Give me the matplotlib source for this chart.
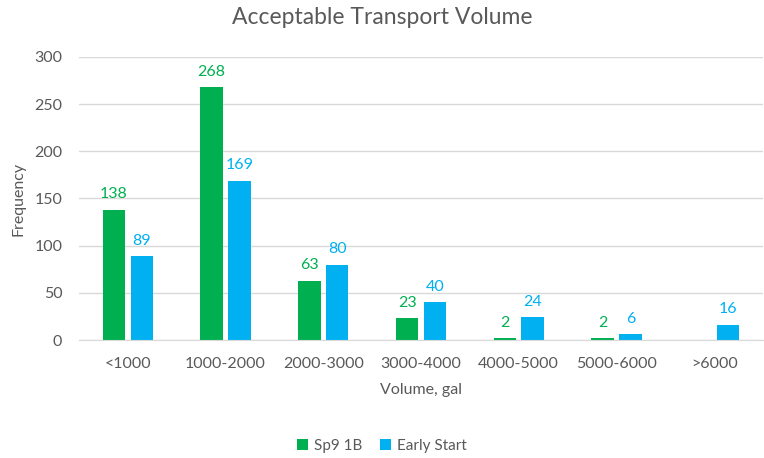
import matplotlib
matplotlib.use("Agg")
import matplotlib.pyplot as plt
import numpy as np

categories = ["<1000", "1000-2000", "2000-3000", "3000-4000", "4000-5000", "5000-6000", ">6000"]
sp9_1b = [138, 268, 63, 23, 2, 2, 0]
early_start = [89, 169, 80, 40, 24, 6, 16]
series_names = ["Sp9 1B", "Early Start"]

GREEN = "#00B050"
BLUE = "#00B0F0"
GRAY = "#595959"

plt.rcParams["font.family"] = ["Lato", "DejaVu Sans"]

fig = plt.figure(figsize=(7.64, 4.58), dpi=100)
ax = fig.add_axes([79 / 764, 1 - 340 / 458, (763 - 79) / 764, (340 - 57) / 458])

x = np.arange(len(categories))
w = 0.23
off = 0.143
b1 = ax.bar(x - off, sp9_1b, w, color=GREEN, label=series_names[0])
b2 = ax.bar(x + off, early_start, w, color=BLUE, label=series_names[1])

for rect, v in zip(b1, sp9_1b):
    if v > 0:
        ax.text(rect.get_x() + rect.get_width() / 2, v + 9, str(v), ha="center", va="bottom",
                color=GREEN, fontsize=11.5)
for rect, v in zip(b2, early_start):
    ax.text(rect.get_x() + rect.get_width() / 2, v + 9, str(v), ha="center", va="bottom",
            color=BLUE, fontsize=11.5)

ax.set_xlim(-0.5, len(categories) - 0.5)
ax.set_ylim(0, 300)
ax.set_yticks(np.arange(0, 301, 50))
ax.yaxis.grid(True, color="#D9D9D9", linewidth=1)
ax.set_axisbelow(True)
for s in ["top", "right", "left"]:
    ax.spines[s].set_visible(False)
ax.spines["bottom"].set_color("#D9D9D9")
ax.tick_params(axis="both", length=0, colors=GRAY, labelsize=11.5)
ax.tick_params(axis="x", pad=12)
ax.tick_params(axis="y", pad=12)
ax.set_xticks(x)
ax.set_xticklabels(categories)

ax.set_xlabel("Volume, gal", color=GRAY, fontsize=11.5, labelpad=9)
ax.set_ylabel("Frequency", color=GRAY, fontsize=11.5, labelpad=6)
fig.text(0.5, 1 - 18 / 458, "Acceptable Transport Volume", ha="center", va="center",
         color=GRAY, fontsize=16.5)

fig.legend(handles=[b1, b2], labels=series_names, loc="center", bbox_to_anchor=(0.5, 1 - 446 / 458),
           ncol=2, frameon=False, fontsize=11, labelcolor=GRAY, handlelength=0.7, handleheight=0.7,
           handletextpad=0.4, columnspacing=1.2)

fig.savefig("out.png", dpi=100)
